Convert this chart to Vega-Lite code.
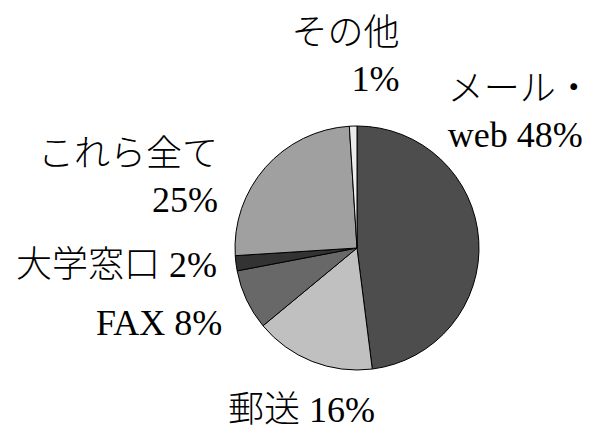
{
  "$schema": "https://vega.github.io/schema/vega-lite/v6.json",
  "autosize": "none",
  "width": 244,
  "height": 244,
  "padding": {"left": 235, "top": 126, "right": 118, "bottom": 60},
  "background": "white",
  "config": {"view": {"stroke": null}},
  "data": {
    "values": [
      {"cat": "メール・web", "value": 48, "order": 1, "label": "メール・\nweb 48%"},
      {"cat": "郵送", "value": 16, "order": 2, "label": "郵送 16%"},
      {"cat": "FAX", "value": 8, "order": 3, "label": "FAX 8%"},
      {"cat": "大学窓口", "value": 2, "order": 4, "label": "大学窓口 2%"},
      {"cat": "これら全て", "value": 25, "order": 5, "label": "これら全て\n25%"},
      {"cat": "その他", "value": 1, "order": 6, "label": "その他\n1%"}
    ]
  },
  "encoding": {
    "theta": {"field": "value", "type": "quantitative", "stack": true},
    "order": {"field": "order", "type": "quantitative"}
  },
  "layer": [
    {
      "mark": {"type": "arc", "stroke": "#000000", "strokeWidth": 1},
      "encoding": {
        "color": {
          "field": "cat",
          "type": "nominal",
          "legend": null,
          "scale": {
            "domain": ["メール・web", "郵送", "FAX", "大学窓口", "これら全て", "その他"],
            "range": ["#4d4d4d", "#c0c0c0", "#686868", "#333333", "#a0a0a0", "#ececec"]
          }
        }
      }
    },
    {
      "mark": {"type": "text", "font": "Liberation Serif, Noto Sans CJK JP", "fontSize": 36, "fontWeight": 300, "lineBreak": "\n", "lineHeight": 46, "align": "left", "baseline": "alphabetic", "color": "#000000", "radius": 140, "dx": -49, "dy": -138},
      "encoding": {"text": {"condition": {"test": "datum.cat === 'メール・web'", "field": "label"}, "value": ""}}
    },
    {
      "mark": {"type": "text", "font": "Liberation Serif, Noto Sans CJK JP", "fontSize": 36, "fontWeight": 300, "lineBreak": "\n", "lineHeight": 46, "align": "right", "baseline": "alphabetic", "color": "#000000", "radius": 140, "dx": 47, "dy": -63},
      "encoding": {"text": {"condition": {"test": "datum.cat === 'その他'", "field": "label"}, "value": ""}}
    },
    {
      "mark": {"type": "text", "font": "Liberation Serif, Noto Sans CJK JP", "fontSize": 36, "fontWeight": 300, "lineBreak": "\n", "lineHeight": 46, "align": "right", "baseline": "alphabetic", "color": "#000000", "radius": 140, "dx": -34, "dy": 11},
      "encoding": {"text": {"condition": {"test": "datum.cat === 'これら全て'", "field": "label"}, "value": ""}}
    },
    {
      "mark": {"type": "text", "font": "Liberation Serif, Noto Sans CJK JP", "fontSize": 36, "fontWeight": 300, "lineBreak": "\n", "lineHeight": 46, "align": "right", "baseline": "alphabetic", "color": "#000000", "radius": 140, "dx": -1, "dy": 11},
      "encoding": {"text": {"condition": {"test": "datum.cat === '大学窓口'", "field": "label"}, "value": ""}}
    },
    {
      "mark": {"type": "text", "font": "Liberation Serif, Noto Sans CJK JP", "fontSize": 36, "fontWeight": 300, "lineBreak": "\n", "lineHeight": 46, "align": "right", "baseline": "alphabetic", "color": "#000000", "radius": 140, "dx": -8, "dy": 27},
      "encoding": {"text": {"condition": {"test": "datum.cat === 'FAX'", "field": "label"}, "value": ""}}
    },
    {
      "mark": {"type": "text", "font": "Liberation Serif, Noto Sans CJK JP", "fontSize": 36, "fontWeight": 300, "lineBreak": "\n", "lineHeight": 46, "align": "center", "baseline": "alphabetic", "color": "#000000", "radius": 140, "dx": -4, "dy": 44},
      "encoding": {"text": {"condition": {"test": "datum.cat === '郵送'", "field": "label"}, "value": ""}}
    }
  ]
}
